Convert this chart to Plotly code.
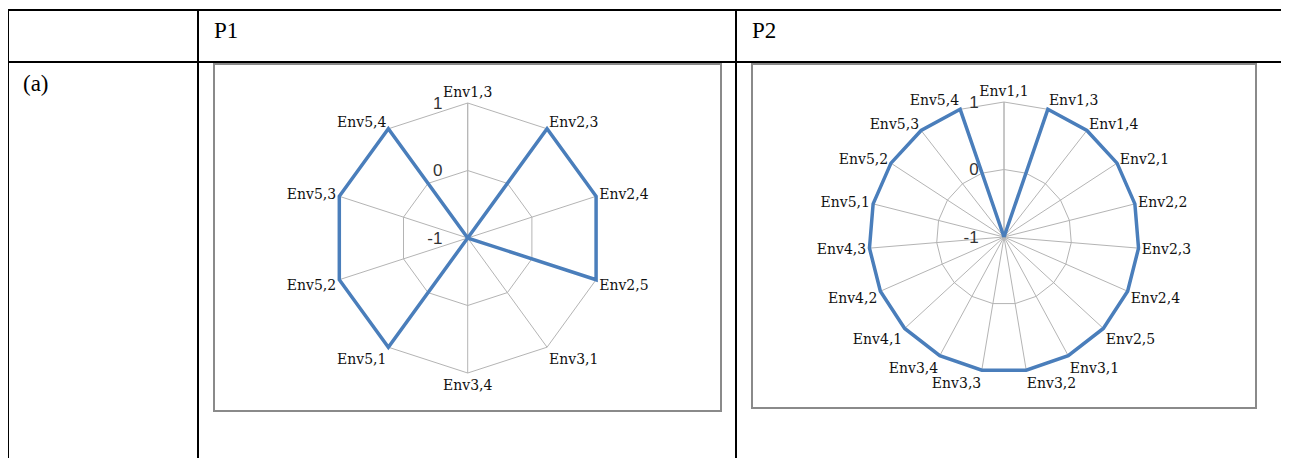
import plotly.graph_objects as go

W, H = 1289, 458
OFF = 8  # page body margin in the browser

# ---- data ----
column_headers = ["P1", "P2"]
row_labels = ["(a)"]

p1_categories = ["Env1,3", "Env2,3", "Env2,4", "Env2,5", "Env3,1",
                 "Env3,4", "Env5,1", "Env5,2", "Env5,3", "Env5,4"]
p1_values = [-1, 1, 1, 1, -1, -1, 1, 1, 1, 1]

p2_categories = ["Env1,1", "Env1,3", "Env1,4", "Env2,1", "Env2,2", "Env2,3",
                 "Env2,4", "Env2,5", "Env3,1", "Env3,2", "Env3,3", "Env3,4",
                 "Env4,1", "Env4,2", "Env4,3", "Env5,1", "Env5,2", "Env5,3",
                 "Env5,4"]
p2_values = [-1, 1, 1, 1, 1, 1, 1, 1, 1, 1, 1, 1, 1, 1, 1, 1, 1, 1, 1]

radial_ticks = [-1, 0, 1]
radial_tick_text = ["-1", "0", "1"]
r_min, r_max = -1, 1

LINE_COLOR = "#4A7EBB"
GRID_COLOR = "#B4B4B4"
PAD = 0.1  # extra radial room on the overlay so the thick line is not clipped


def fx(x):
    return (x - OFF) / W


def fy(y):
    return 1 - (y - OFF) / H


def closed(cats, vals):
    return list(cats) + [cats[0]], list(vals) + [vals[0]]


def domain(cx, cy, rad):
    return dict(x=[fx(cx - rad), fx(cx + rad)], y=[fy(cy + rad), fy(cy - rad)])


fig = go.Figure()

c1, v1 = closed(p1_categories, p1_values)
c2, v2 = closed(p2_categories, p2_values)

# invisible traces on the grid subplots (keeps them rendered)
for sp, c, v in (("polar", c1, v1), ("polar2", c2, v2)):
    fig.add_trace(go.Scatterpolar(theta=c, r=v, mode="lines",
                                  line=dict(color="rgba(0,0,0,0)", width=0),
                                  hoverinfo="skip", subplot=sp,
                                  showlegend=False))
# visible data lines on transparent overlay subplots
for sp, c, v in (("polar3", c1, v1), ("polar4", c2, v2)):
    fig.add_trace(go.Scatterpolar(theta=c, r=v, mode="lines",
                                  line=dict(color=LINE_COLOR, width=3.5),
                                  subplot=sp, showlegend=False))


def grid_polar(cx, cy, rad, cats):
    return dict(
        domain=domain(cx, cy, rad),
        bgcolor="white",
        gridshape="linear",
        radialaxis=dict(range=[r_min, r_max], tickvals=radial_ticks,
                        ticktext=[t + "    " for t in radial_tick_text],
                        angle=90, side="counterclockwise", tickangle=90,
                        showline=True, linecolor=GRID_COLOR, linewidth=1,
                        showgrid=True, gridcolor=GRID_COLOR, gridwidth=1,
                        ticks="", layer="below traces",
                        tickfont=dict(family="Liberation Sans", size=17,
                                      color="#333333")),
        angularaxis=dict(type="category", categoryarray=cats,
                         direction="clockwise", rotation=90,
                         showline=True, linecolor=GRID_COLOR, linewidth=1,
                         showgrid=True, gridcolor=GRID_COLOR, gridwidth=1,
                         ticks="", layer="below traces",
                         tickfont=dict(family="DejaVu Serif", size=14,
                                       color="#111111")),
    )


def data_polar(cx, cy, rad, cats):
    scale = (r_max + PAD - r_min) / (r_max - r_min)
    return dict(
        domain=domain(cx, cy, rad * scale),
        bgcolor="rgba(0,0,0,0)",
        gridshape="linear",
        radialaxis=dict(range=[r_min, r_max + PAD], visible=False),
        angularaxis=dict(type="category", categoryarray=cats,
                         direction="clockwise", rotation=90,
                         showline=False, showgrid=False,
                         showticklabels=False, ticks=""),
    )


P1C = (467.7, 238.0, 135.0)
P2C = (1004, 237.0, 135.0)

fig.update_layout(
    width=W, height=H,
    margin=dict(l=0, r=0, t=0, b=0),
    paper_bgcolor="white",
    plot_bgcolor="white",
    polar=grid_polar(*P1C, p1_categories),
    polar2=grid_polar(*P2C, p2_categories),
    polar3=data_polar(*P1C, p1_categories),
    polar4=data_polar(*P2C, p2_categories),
)

# table rules
shapes = []
black = dict(color="black", width=2)
shapes.append(dict(type="line", xref="paper", yref="paper",
                   x0=fx(7), x1=1, y0=fy(10), y1=fy(10), line=black))
shapes.append(dict(type="line", xref="paper", yref="paper",
                   x0=fx(7), x1=1, y0=fy(62), y1=fy(62), line=black))
for xv in (8, 198, 736):
    shapes.append(dict(type="line", xref="paper", yref="paper",
                       x0=fx(xv), x1=fx(xv), y0=fy(9), y1=fy(470), line=black))
# chart frames
grey = dict(color="#8A8A8A", width=2)
shapes.append(dict(type="rect", xref="paper", yref="paper",
                   x0=fx(214), x1=fx(721), y0=fy(64), y1=fy(411), line=grey,
                   layer="below"))
shapes.append(dict(type="rect", xref="paper", yref="paper",
                   x0=fx(752), x1=fx(1256), y0=fy(64), y1=fy(408), line=grey,
                   layer="below"))
fig.update_layout(shapes=shapes)

serif = dict(family="Liberation Serif", size=23, color="black")
annotations = [
    dict(text=column_headers[0], x=fx(212), y=fy(30), xanchor="left",
         yanchor="middle", showarrow=False, font=serif, xref="paper",
         yref="paper"),
    dict(text=column_headers[1], x=fx(750), y=fy(30), xanchor="left",
         yanchor="middle", showarrow=False, font=serif, xref="paper",
         yref="paper"),
    dict(text=row_labels[0], x=fx(21), y=fy(83), xanchor="left",
         yanchor="middle", showarrow=False, font=serif, xref="paper",
         yref="paper"),
]
fig.update_layout(annotations=annotations)

fig.write_html("out.html")
